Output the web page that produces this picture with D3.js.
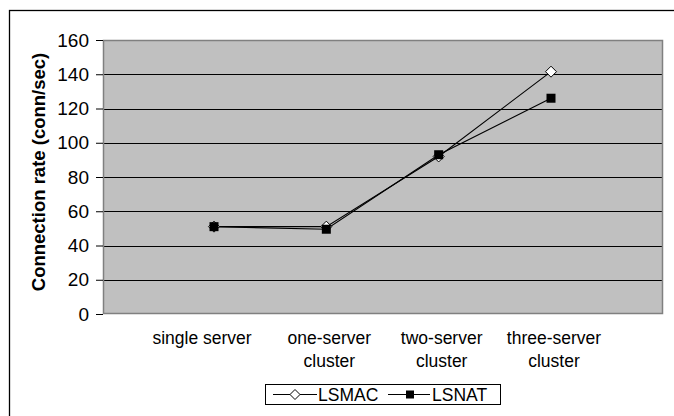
<!DOCTYPE html>
<html>
<head>
<meta charset="utf-8">
<script src="https://cdn.jsdelivr.net/npm/d3@7"></script>
<style>
  html, body { margin: 0; padding: 0; background: #fff; }
  svg { display: block; font-family: "Liberation Sans", Arial, sans-serif; }
</style>
</head>
<body>
<svg id="chart" width="674" height="416"></svg>
<script>
// Connection rate measured for each server configuration
const categories = [["single server"], ["one-server", "cluster"], ["two-server", "cluster"], ["three-server", "cluster"]];
const lsmac = [51, 51, 92, 141.5];
const lsnat = [51, 49.5, 93, 126];
const yTicks = [0, 20, 40, 60, 80, 100, 120, 140, 160];
const seriesNames = ["LSMAC", "LSNAT"];

const svg = d3.select("#chart");
const plot = { left: 103, right: 663, top: 40, bottom: 314 };

// Outer chart frame (right and bottom run past the window)
svg.append("rect")
  .attr("x", 9.5).attr("y", 10.5)
  .attr("width", 700).attr("height", 450)
  .attr("fill", "#fff").attr("stroke", "#000").attr("stroke-width", 1.3);

const y = d3.scaleLinear().domain([0, 160]).range([plot.bottom, plot.top]);
const x = d3.scalePoint()
  .domain(d3.range(categories.length))
  .range([214, 551]);

// Plot background
svg.append("rect")
  .attr("x", plot.left).attr("y", plot.top)
  .attr("width", plot.right - plot.left).attr("height", plot.bottom - plot.top)
  .attr("fill", "#c0c0c0");

// Horizontal gridlines
svg.append("g").selectAll("line")
  .data(yTicks.filter(t => t > 0 && t < 160))
  .join("line")
  .attr("x1", plot.left).attr("x2", plot.right)
  .attr("y1", d => Math.round(y(d)) + 0.5).attr("y2", d => Math.round(y(d)) + 0.5)
  .attr("stroke", "#000").attr("stroke-width", 1);

// Plot border
svg.append("rect")
  .attr("x", plot.left + 0.5).attr("y", plot.top + 0.5)
  .attr("width", plot.right - plot.left - 1).attr("height", plot.bottom - plot.top - 1)
  .attr("fill", "none").attr("stroke", "#808080").attr("stroke-width", 1.5);

// Y axis
const yAxis = d3.axisLeft(y).tickValues(yTicks).tickSize(7).tickPadding(7);
const gy = svg.append("g")
  .attr("transform", `translate(${plot.left},0)`)
  .call(yAxis);
gy.select(".domain").remove();
gy.selectAll(".tick line").attr("stroke", "#000");
gy.selectAll(".tick text")
  .attr("font-size", 19).attr("fill", "#000")
  .attr("font-family", "'Liberation Sans', Arial, sans-serif");

// Y axis title
svg.append("text")
  .attr("transform", "translate(45,172) rotate(-90)")
  .attr("text-anchor", "middle")
  .attr("font-size", 18.5).attr("font-weight", "bold")
  .text("Connection rate (conn/sec)");

// Category labels
const xl = svg.append("g").selectAll("text")
  .data(categories)
  .join("text")
  .attr("text-anchor", "middle")
  .attr("font-size", 17.5)
  .attr("transform", (d, i) => `translate(${x(i) + (i === 0 ? -12 : 3)},344)`);
xl.selectAll("tspan")
  .data(d => d)
  .join("tspan")
  .attr("x", 0)
  .attr("dy", (d, i) => i === 0 ? 0 : 23)
  .text(d => d);

// Series lines
const line = d3.line().x((d, i) => x(i)).y(d => y(d));
svg.append("path").datum(lsmac)
  .attr("d", line).attr("fill", "none").attr("stroke", "#000").attr("stroke-width", 1.1);
svg.append("path").datum(lsnat)
  .attr("d", line).attr("fill", "none").attr("stroke", "#000").attr("stroke-width", 1.1);

const diamond = (cx, cy, r) => `M${cx},${cy - r}L${cx + r},${cy}L${cx},${cy + r}L${cx - r},${cy}Z`;

// LSMAC markers: white diamonds
svg.append("g").selectAll("path")
  .data(lsmac)
  .join("path")
  .attr("d", (d, i) => diamond(x(i), y(d), 5.5))
  .attr("fill", "#fff").attr("stroke", "#000").attr("stroke-width", 1);

// LSNAT markers: black squares
svg.append("g").selectAll("rect")
  .data(lsnat)
  .join("rect")
  .attr("x", (d, i) => x(i) - 4.5).attr("y", d => y(d) - 4.5)
  .attr("width", 9).attr("height", 9)
  .attr("fill", "#000");

// Legend
const lg = svg.append("g");
lg.append("rect")
  .attr("x", 265.5).attr("y", 384.5).attr("width", 235).attr("height", 20)
  .attr("fill", "#fff").attr("stroke", "#000").attr("stroke-width", 1);
const legendItems = [
  { name: seriesNames[0], x1: 273, x2: 317, mx: 295, tx: 318 },
  { name: seriesNames[1], x1: 388, x2: 430, mx: 410, tx: 432 }
];
const ly = 394.5;
lg.selectAll("line.key")
  .data(legendItems)
  .join("line")
  .attr("x1", d => d.x1).attr("x2", d => d.x2)
  .attr("y1", ly).attr("y2", ly)
  .attr("stroke", "#000").attr("stroke-width", 1);
lg.append("path")
  .attr("d", diamond(legendItems[0].mx, ly, 5))
  .attr("fill", "#fff").attr("stroke", "#000");
lg.append("rect")
  .attr("x", legendItems[1].mx - 4).attr("y", ly - 4)
  .attr("width", 8).attr("height", 8).attr("fill", "#000");
lg.selectAll("text")
  .data(legendItems)
  .join("text")
  .attr("x", d => d.tx).attr("y", ly + 6.5)
  .attr("font-size", 17.5)
  .text(d => d.name);
</script>
</body>
</html>
